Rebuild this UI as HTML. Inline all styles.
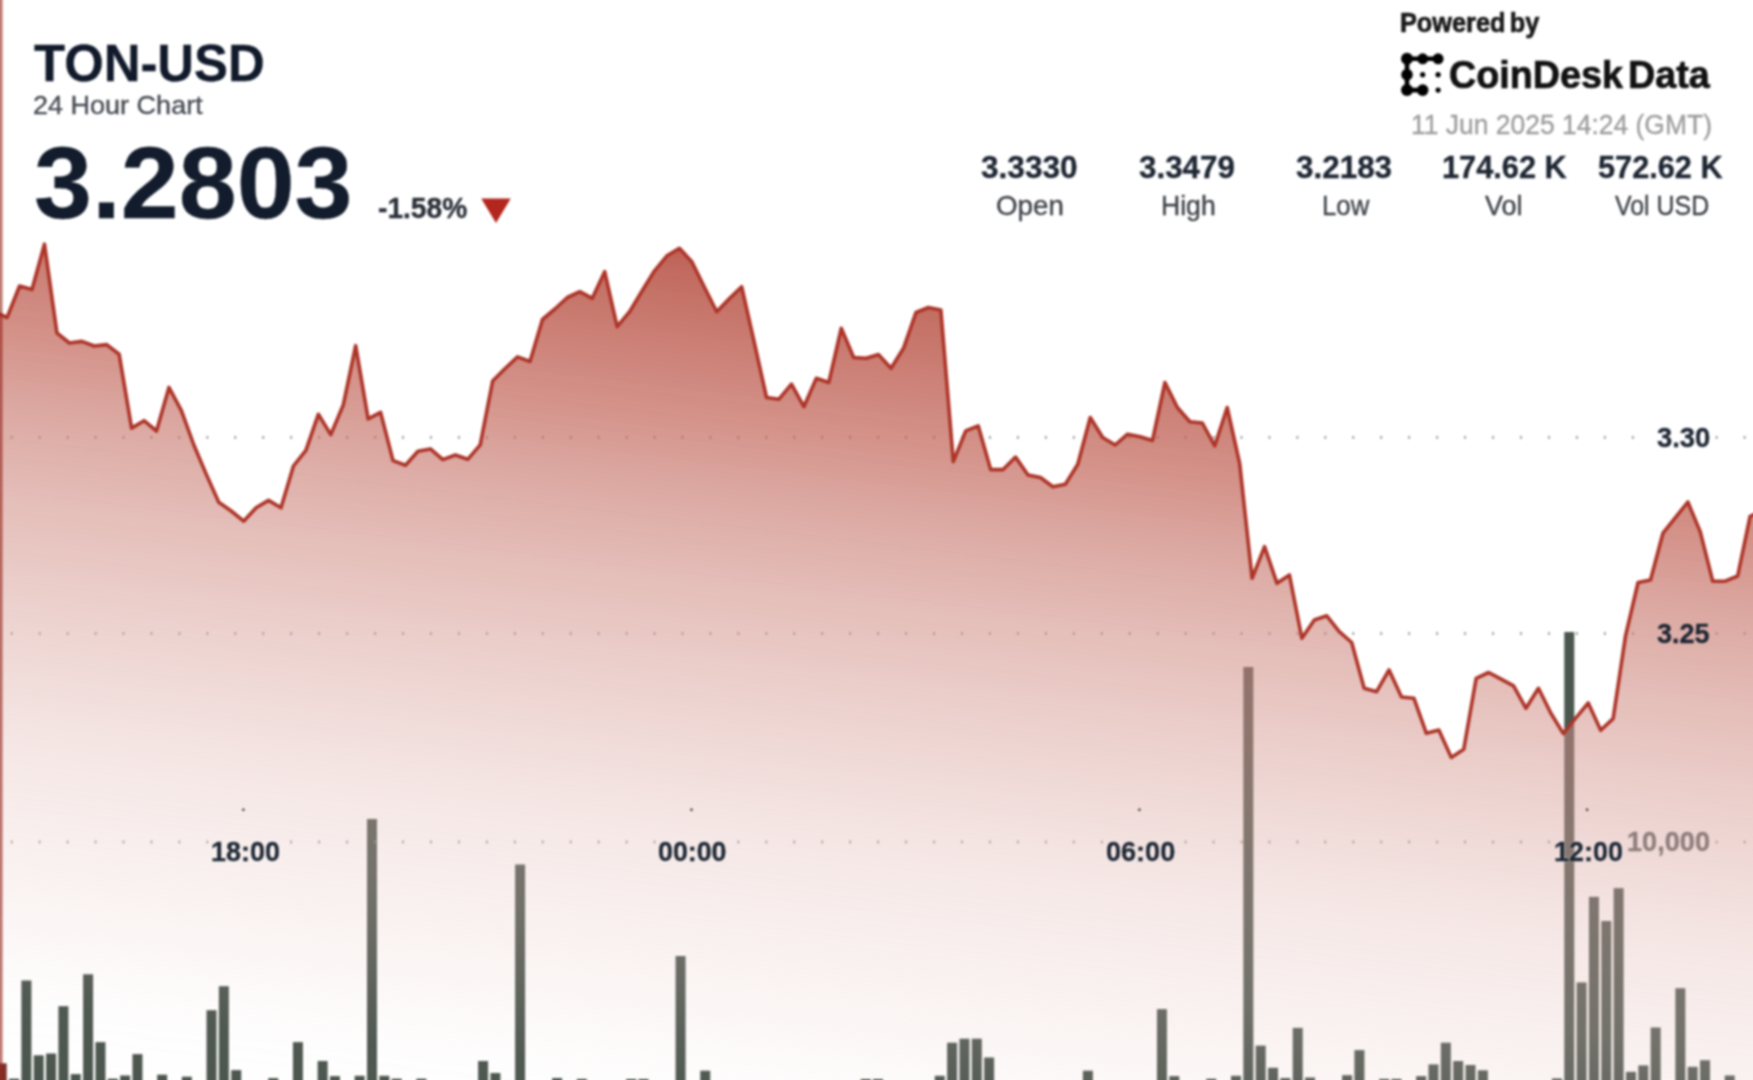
<!DOCTYPE html>
<html><head><meta charset="utf-8">
<style>
html,body{margin:0;padding:0;background:#fff;}
body{width:1753px;height:1080px;overflow:hidden;position:relative;font-family:"Liberation Sans",Arial,sans-serif;}
.t{position:absolute;white-space:nowrap;line-height:1;transform-origin:0 0;font-family:"Liberation Sans",Arial,sans-serif;}
svg{position:absolute;left:0;top:0;}
.root{position:absolute;left:0;top:0;width:1753px;height:1080px;filter:blur(1px);}
</style></head>
<body>
<div class="root">
<svg style="left:-10px;top:-10px" width="1773" height="1100" viewBox="-10 -10 1773 1100">
<defs>
<linearGradient id="g" gradientUnits="userSpaceOnUse" x1="0" y1="166.0" x2="-108.12" y2="1067.03">
<stop offset="0.0000" stop-color="rgb(176,60,48)" stop-opacity="0.820"/>
<stop offset="0.0263" stop-color="rgb(179,70,56)" stop-opacity="0.800"/>
<stop offset="0.1849" stop-color="rgb(192,96,83)" stop-opacity="0.680"/>
<stop offset="0.2516" stop-color="rgb(197,113,102)" stop-opacity="0.630"/>
<stop offset="0.3567" stop-color="rgb(206,134,125)" stop-opacity="0.550"/>
<stop offset="0.4354" stop-color="rgb(212,149,141)" stop-opacity="0.500"/>
<stop offset="0.5536" stop-color="rgb(219,168,161)" stop-opacity="0.400"/>
<stop offset="0.6324" stop-color="rgb(225,182,176)" stop-opacity="0.330"/>
<stop offset="0.7429" stop-color="rgb(230,195,190)" stop-opacity="0.250"/>
<stop offset="0.7921" stop-color="rgb(230,195,190)" stop-opacity="0.190"/>
<stop offset="0.9125" stop-color="rgb(230,195,190)" stop-opacity="0.030"/>
<stop offset="1.0000" stop-color="rgb(230,195,190)" stop-opacity="0.000"/>
</linearGradient>
</defs>
<g><rect x="-3.3" y="1063.3" width="10.0" height="26.7" fill="#7a3129"/>
<rect x="9.04" y="1078.7" width="10.0" height="11.3" fill="#4b564e"/>
<rect x="21.39" y="980.5" width="10.0" height="109.5" fill="#4b564e"/>
<rect x="33.73" y="1055.3" width="10.0" height="34.7" fill="#4b564e"/>
<rect x="46.07" y="1053.5" width="10.0" height="36.5" fill="#4b564e"/>
<rect x="58.42" y="1006.2" width="10.0" height="83.8" fill="#4b564e"/>
<rect x="70.76" y="1074.1" width="10.0" height="15.9" fill="#4b564e"/>
<rect x="83.1" y="974.3" width="10.0" height="115.7" fill="#4b564e"/>
<rect x="95.44" y="1042.1" width="10.0" height="47.9" fill="#4b564e"/>
<rect x="107.79" y="1078.7" width="10.0" height="11.3" fill="#4b564e"/>
<rect x="120.13" y="1075.5" width="10.0" height="14.5" fill="#4b564e"/>
<rect x="132.47" y="1054.1" width="10.0" height="35.9" fill="#4b564e"/>
<rect x="157.16" y="1074.7" width="10.0" height="15.3" fill="#4b564e"/>
<rect x="181.84" y="1076.7" width="10.0" height="13.3" fill="#4b564e"/>
<rect x="206.53" y="1010.2" width="10.0" height="79.8" fill="#4b564e"/>
<rect x="218.87" y="986.2" width="10.0" height="103.8" fill="#4b564e"/>
<rect x="231.22" y="1070.1" width="10.0" height="19.9" fill="#4b564e"/>
<rect x="268.25" y="1078.1" width="10.0" height="11.9" fill="#4b564e"/>
<rect x="292.93" y="1042.1" width="10.0" height="47.9" fill="#4b564e"/>
<rect x="317.62" y="1061" width="10.0" height="29" fill="#4b564e"/>
<rect x="329.96" y="1076.1" width="10.0" height="13.9" fill="#4b564e"/>
<rect x="354.65" y="1075.8" width="10.0" height="14.2" fill="#4b564e"/>
<rect x="366.99" y="819" width="10.0" height="271" fill="#4b564e"/>
<rect x="379.33" y="1075.8" width="10.0" height="14.2" fill="#4b564e"/>
<rect x="391.68" y="1078.7" width="10.0" height="11.3" fill="#4b564e"/>
<rect x="416.36" y="1078.7" width="10.0" height="11.3" fill="#4b564e"/>
<rect x="478.08" y="1061" width="10.0" height="29" fill="#4b564e"/>
<rect x="490.42" y="1073" width="10.0" height="17" fill="#4b564e"/>
<rect x="515.11" y="864.5" width="10.0" height="225.5" fill="#4b564e"/>
<rect x="552.13" y="1078" width="10.0" height="12" fill="#4b564e"/>
<rect x="576.82" y="1078.9" width="10.0" height="11.1" fill="#4b564e"/>
<rect x="626.19" y="1079" width="10.0" height="11" fill="#4b564e"/>
<rect x="638.54" y="1079" width="10.0" height="11" fill="#4b564e"/>
<rect x="675.57" y="956" width="10.0" height="134" fill="#4b564e"/>
<rect x="700.25" y="1070.7" width="10.0" height="19.3" fill="#4b564e"/>
<rect x="860.71" y="1079" width="10.0" height="11" fill="#4b564e"/>
<rect x="873.05" y="1079" width="10.0" height="11" fill="#4b564e"/>
<rect x="934.77" y="1075.8" width="10.0" height="14.2" fill="#4b564e"/>
<rect x="947.11" y="1042.7" width="10.0" height="47.3" fill="#4b564e"/>
<rect x="959.45" y="1038.7" width="10.0" height="51.3" fill="#4b564e"/>
<rect x="971.8" y="1038.7" width="10.0" height="51.3" fill="#4b564e"/>
<rect x="984.14" y="1057.5" width="10.0" height="32.5" fill="#4b564e"/>
<rect x="1082.88" y="1070.7" width="10.0" height="19.3" fill="#4b564e"/>
<rect x="1156.94" y="1009.1" width="10.0" height="80.9" fill="#4b564e"/>
<rect x="1169.29" y="1076.1" width="10.0" height="13.9" fill="#4b564e"/>
<rect x="1206.31" y="1078.7" width="10.0" height="11.3" fill="#4b564e"/>
<rect x="1231" y="1075.8" width="10.0" height="14.2" fill="#4b564e"/>
<rect x="1243.34" y="667" width="10.0" height="423" fill="#4b564e"/>
<rect x="1255.69" y="1045.6" width="10.0" height="44.4" fill="#4b564e"/>
<rect x="1268.03" y="1067.8" width="10.0" height="22.2" fill="#4b564e"/>
<rect x="1280.37" y="1078" width="10.0" height="12" fill="#4b564e"/>
<rect x="1292.72" y="1027.9" width="10.0" height="62.1" fill="#4b564e"/>
<rect x="1305.06" y="1077.5" width="10.0" height="12.5" fill="#4b564e"/>
<rect x="1342.09" y="1075.2" width="10.0" height="14.8" fill="#4b564e"/>
<rect x="1354.43" y="1050.1" width="10.0" height="39.9" fill="#4b564e"/>
<rect x="1379.12" y="1078.9" width="10.0" height="11.1" fill="#4b564e"/>
<rect x="1391.46" y="1078.9" width="10.0" height="11.1" fill="#4b564e"/>
<rect x="1416.14" y="1076.1" width="10.0" height="13.9" fill="#4b564e"/>
<rect x="1428.49" y="1064.4" width="10.0" height="25.6" fill="#4b564e"/>
<rect x="1440.83" y="1042.7" width="10.0" height="47.3" fill="#4b564e"/>
<rect x="1453.17" y="1061" width="10.0" height="29" fill="#4b564e"/>
<rect x="1465.52" y="1065" width="10.0" height="25" fill="#4b564e"/>
<rect x="1477.86" y="1070.3" width="10.0" height="19.7" fill="#4b564e"/>
<rect x="1551.92" y="1078.4" width="10.0" height="11.6" fill="#4b564e"/>
<rect x="1564.26" y="632" width="10.0" height="458" fill="#4b564e"/>
<rect x="1576.6" y="982.4" width="10.0" height="107.6" fill="#4b564e"/>
<rect x="1588.95" y="896.8" width="10.0" height="193.2" fill="#4b564e"/>
<rect x="1601.29" y="921" width="10.0" height="169" fill="#4b564e"/>
<rect x="1613.63" y="888.1" width="10.0" height="201.9" fill="#4b564e"/>
<rect x="1625.98" y="1071.8" width="10.0" height="18.2" fill="#4b564e"/>
<rect x="1638.32" y="1065.4" width="10.0" height="24.6" fill="#4b564e"/>
<rect x="1650.66" y="1027.5" width="10.0" height="62.5" fill="#4b564e"/>
<rect x="1675.35" y="988.2" width="10.0" height="101.8" fill="#4b564e"/>
<rect x="1687.69" y="1066.8" width="10.0" height="23.2" fill="#4b564e"/>
<rect x="1700.03" y="1060.2" width="10.0" height="29.8" fill="#4b564e"/>
<rect x="1724.72" y="1075.5" width="10.0" height="14.5" fill="#4b564e"/></g>
<g fill="#8a8a8a"><rect x="10.9" y="436" width="1.6" height="2.8"/><rect x="38.85" y="436" width="1.6" height="2.8"/><rect x="66.8" y="436" width="1.6" height="2.8"/><rect x="94.75" y="436" width="1.6" height="2.8"/><rect x="122.7" y="436" width="1.6" height="2.8"/><rect x="150.65" y="436" width="1.6" height="2.8"/><rect x="178.6" y="436" width="1.6" height="2.8"/><rect x="206.55" y="436" width="1.6" height="2.8"/><rect x="234.5" y="436" width="1.6" height="2.8"/><rect x="262.45" y="436" width="1.6" height="2.8"/><rect x="290.4" y="436" width="1.6" height="2.8"/><rect x="318.35" y="436" width="1.6" height="2.8"/><rect x="346.3" y="436" width="1.6" height="2.8"/><rect x="374.25" y="436" width="1.6" height="2.8"/><rect x="402.2" y="436" width="1.6" height="2.8"/><rect x="430.15" y="436" width="1.6" height="2.8"/><rect x="458.1" y="436" width="1.6" height="2.8"/><rect x="486.05" y="436" width="1.6" height="2.8"/><rect x="514" y="436" width="1.6" height="2.8"/><rect x="541.95" y="436" width="1.6" height="2.8"/><rect x="569.9" y="436" width="1.6" height="2.8"/><rect x="597.85" y="436" width="1.6" height="2.8"/><rect x="625.8" y="436" width="1.6" height="2.8"/><rect x="653.75" y="436" width="1.6" height="2.8"/><rect x="681.7" y="436" width="1.6" height="2.8"/><rect x="709.65" y="436" width="1.6" height="2.8"/><rect x="737.6" y="436" width="1.6" height="2.8"/><rect x="765.55" y="436" width="1.6" height="2.8"/><rect x="793.5" y="436" width="1.6" height="2.8"/><rect x="821.45" y="436" width="1.6" height="2.8"/><rect x="849.4" y="436" width="1.6" height="2.8"/><rect x="877.35" y="436" width="1.6" height="2.8"/><rect x="905.3" y="436" width="1.6" height="2.8"/><rect x="933.25" y="436" width="1.6" height="2.8"/><rect x="961.2" y="436" width="1.6" height="2.8"/><rect x="989.15" y="436" width="1.6" height="2.8"/><rect x="1017.1" y="436" width="1.6" height="2.8"/><rect x="1045.05" y="436" width="1.6" height="2.8"/><rect x="1073" y="436" width="1.6" height="2.8"/><rect x="1100.95" y="436" width="1.6" height="2.8"/><rect x="1128.9" y="436" width="1.6" height="2.8"/><rect x="1156.85" y="436" width="1.6" height="2.8"/><rect x="1184.8" y="436" width="1.6" height="2.8"/><rect x="1212.75" y="436" width="1.6" height="2.8"/><rect x="1240.7" y="436" width="1.6" height="2.8"/><rect x="1268.65" y="436" width="1.6" height="2.8"/><rect x="1296.6" y="436" width="1.6" height="2.8"/><rect x="1324.55" y="436" width="1.6" height="2.8"/><rect x="1352.5" y="436" width="1.6" height="2.8"/><rect x="1380.45" y="436" width="1.6" height="2.8"/><rect x="1408.4" y="436" width="1.6" height="2.8"/><rect x="1436.35" y="436" width="1.6" height="2.8"/><rect x="1464.3" y="436" width="1.6" height="2.8"/><rect x="1492.25" y="436" width="1.6" height="2.8"/><rect x="1520.2" y="436" width="1.6" height="2.8"/><rect x="1548.15" y="436" width="1.6" height="2.8"/><rect x="1576.1" y="436" width="1.6" height="2.8"/><rect x="1604.05" y="436" width="1.6" height="2.8"/><rect x="1632" y="436" width="1.6" height="2.8"/><rect x="1715.85" y="436" width="1.6" height="2.8"/><rect x="1743.8" y="436" width="1.6" height="2.8"/><rect x="10.9" y="632.1" width="1.6" height="2.8"/><rect x="38.85" y="632.1" width="1.6" height="2.8"/><rect x="66.8" y="632.1" width="1.6" height="2.8"/><rect x="94.75" y="632.1" width="1.6" height="2.8"/><rect x="122.7" y="632.1" width="1.6" height="2.8"/><rect x="150.65" y="632.1" width="1.6" height="2.8"/><rect x="178.6" y="632.1" width="1.6" height="2.8"/><rect x="206.55" y="632.1" width="1.6" height="2.8"/><rect x="234.5" y="632.1" width="1.6" height="2.8"/><rect x="262.45" y="632.1" width="1.6" height="2.8"/><rect x="290.4" y="632.1" width="1.6" height="2.8"/><rect x="318.35" y="632.1" width="1.6" height="2.8"/><rect x="346.3" y="632.1" width="1.6" height="2.8"/><rect x="374.25" y="632.1" width="1.6" height="2.8"/><rect x="402.2" y="632.1" width="1.6" height="2.8"/><rect x="430.15" y="632.1" width="1.6" height="2.8"/><rect x="458.1" y="632.1" width="1.6" height="2.8"/><rect x="486.05" y="632.1" width="1.6" height="2.8"/><rect x="514" y="632.1" width="1.6" height="2.8"/><rect x="541.95" y="632.1" width="1.6" height="2.8"/><rect x="569.9" y="632.1" width="1.6" height="2.8"/><rect x="597.85" y="632.1" width="1.6" height="2.8"/><rect x="625.8" y="632.1" width="1.6" height="2.8"/><rect x="653.75" y="632.1" width="1.6" height="2.8"/><rect x="681.7" y="632.1" width="1.6" height="2.8"/><rect x="709.65" y="632.1" width="1.6" height="2.8"/><rect x="737.6" y="632.1" width="1.6" height="2.8"/><rect x="765.55" y="632.1" width="1.6" height="2.8"/><rect x="793.5" y="632.1" width="1.6" height="2.8"/><rect x="821.45" y="632.1" width="1.6" height="2.8"/><rect x="849.4" y="632.1" width="1.6" height="2.8"/><rect x="877.35" y="632.1" width="1.6" height="2.8"/><rect x="905.3" y="632.1" width="1.6" height="2.8"/><rect x="933.25" y="632.1" width="1.6" height="2.8"/><rect x="961.2" y="632.1" width="1.6" height="2.8"/><rect x="989.15" y="632.1" width="1.6" height="2.8"/><rect x="1017.1" y="632.1" width="1.6" height="2.8"/><rect x="1045.05" y="632.1" width="1.6" height="2.8"/><rect x="1073" y="632.1" width="1.6" height="2.8"/><rect x="1100.95" y="632.1" width="1.6" height="2.8"/><rect x="1128.9" y="632.1" width="1.6" height="2.8"/><rect x="1156.85" y="632.1" width="1.6" height="2.8"/><rect x="1184.8" y="632.1" width="1.6" height="2.8"/><rect x="1212.75" y="632.1" width="1.6" height="2.8"/><rect x="1240.7" y="632.1" width="1.6" height="2.8"/><rect x="1268.65" y="632.1" width="1.6" height="2.8"/><rect x="1296.6" y="632.1" width="1.6" height="2.8"/><rect x="1324.55" y="632.1" width="1.6" height="2.8"/><rect x="1352.5" y="632.1" width="1.6" height="2.8"/><rect x="1380.45" y="632.1" width="1.6" height="2.8"/><rect x="1408.4" y="632.1" width="1.6" height="2.8"/><rect x="1436.35" y="632.1" width="1.6" height="2.8"/><rect x="1464.3" y="632.1" width="1.6" height="2.8"/><rect x="1492.25" y="632.1" width="1.6" height="2.8"/><rect x="1520.2" y="632.1" width="1.6" height="2.8"/><rect x="1548.15" y="632.1" width="1.6" height="2.8"/><rect x="1576.1" y="632.1" width="1.6" height="2.8"/><rect x="1604.05" y="632.1" width="1.6" height="2.8"/><rect x="1632" y="632.1" width="1.6" height="2.8"/><rect x="1715.85" y="632.1" width="1.6" height="2.8"/><rect x="1743.8" y="632.1" width="1.6" height="2.8"/><rect x="10.9" y="840.6" width="1.6" height="2.8"/><rect x="38.85" y="840.6" width="1.6" height="2.8"/><rect x="66.8" y="840.6" width="1.6" height="2.8"/><rect x="94.75" y="840.6" width="1.6" height="2.8"/><rect x="122.7" y="840.6" width="1.6" height="2.8"/><rect x="150.65" y="840.6" width="1.6" height="2.8"/><rect x="178.6" y="840.6" width="1.6" height="2.8"/><rect x="206.55" y="840.6" width="1.6" height="2.8"/><rect x="290.4" y="840.6" width="1.6" height="2.8"/><rect x="318.35" y="840.6" width="1.6" height="2.8"/><rect x="346.3" y="840.6" width="1.6" height="2.8"/><rect x="374.25" y="840.6" width="1.6" height="2.8"/><rect x="402.2" y="840.6" width="1.6" height="2.8"/><rect x="430.15" y="840.6" width="1.6" height="2.8"/><rect x="458.1" y="840.6" width="1.6" height="2.8"/><rect x="486.05" y="840.6" width="1.6" height="2.8"/><rect x="514" y="840.6" width="1.6" height="2.8"/><rect x="541.95" y="840.6" width="1.6" height="2.8"/><rect x="569.9" y="840.6" width="1.6" height="2.8"/><rect x="597.85" y="840.6" width="1.6" height="2.8"/><rect x="625.8" y="840.6" width="1.6" height="2.8"/><rect x="653.75" y="840.6" width="1.6" height="2.8"/><rect x="737.6" y="840.6" width="1.6" height="2.8"/><rect x="765.55" y="840.6" width="1.6" height="2.8"/><rect x="793.5" y="840.6" width="1.6" height="2.8"/><rect x="821.45" y="840.6" width="1.6" height="2.8"/><rect x="849.4" y="840.6" width="1.6" height="2.8"/><rect x="877.35" y="840.6" width="1.6" height="2.8"/><rect x="905.3" y="840.6" width="1.6" height="2.8"/><rect x="933.25" y="840.6" width="1.6" height="2.8"/><rect x="961.2" y="840.6" width="1.6" height="2.8"/><rect x="989.15" y="840.6" width="1.6" height="2.8"/><rect x="1017.1" y="840.6" width="1.6" height="2.8"/><rect x="1045.05" y="840.6" width="1.6" height="2.8"/><rect x="1073" y="840.6" width="1.6" height="2.8"/><rect x="1100.95" y="840.6" width="1.6" height="2.8"/><rect x="1184.8" y="840.6" width="1.6" height="2.8"/><rect x="1212.75" y="840.6" width="1.6" height="2.8"/><rect x="1240.7" y="840.6" width="1.6" height="2.8"/><rect x="1268.65" y="840.6" width="1.6" height="2.8"/><rect x="1296.6" y="840.6" width="1.6" height="2.8"/><rect x="1324.55" y="840.6" width="1.6" height="2.8"/><rect x="1352.5" y="840.6" width="1.6" height="2.8"/><rect x="1380.45" y="840.6" width="1.6" height="2.8"/><rect x="1408.4" y="840.6" width="1.6" height="2.8"/><rect x="1436.35" y="840.6" width="1.6" height="2.8"/><rect x="1464.3" y="840.6" width="1.6" height="2.8"/><rect x="1492.25" y="840.6" width="1.6" height="2.8"/><rect x="1520.2" y="840.6" width="1.6" height="2.8"/><rect x="1548.15" y="840.6" width="1.6" height="2.8"/><rect x="1715.85" y="840.6" width="1.6" height="2.8"/><rect x="1743.8" y="840.6" width="1.6" height="2.8"/></g>
<path d="M-5.35,312 L7.1,317.5 L19.55,286 L32,289.6 L44.45,244.2 L56.9,332.8 L69.35,343 L81.8,341.4 L94.25,346 L106.7,344.6 L119.15,354.2 L131.6,428.1 L144.05,420.7 L156.5,431 L168.95,387.4 L181.4,410.6 L193.85,445 L206.3,474.4 L218.75,502.2 L231.2,511 L243.65,521.2 L256.1,507.8 L268.55,500.4 L281,507.8 L293.45,466 L305.9,450.4 L318.35,414.3 L330.8,434.6 L343.25,405 L355.7,345.7 L368.15,418.9 L380.6,412.4 L393.05,460.6 L405.5,465.2 L417.95,451.3 L430.4,448.9 L442.85,459.6 L455.3,455 L467.75,459.3 L480.2,444.8 L492.65,381 L505.1,368.5 L517.55,356.9 L530,361.5 L542.45,319.5 L554.9,309 L567.35,297.5 L579.8,291.7 L592.25,298.3 L604.7,271.7 L617.15,326.7 L629.6,311.7 L642.05,291 L654.5,270.8 L666.95,255.8 L679.4,248.3 L691.85,261.7 L704.3,287 L716.75,311.7 L729.2,298.7 L741.65,286.7 L754.1,341.7 L766.55,397.5 L779,399.2 L791.45,384.2 L803.9,406.7 L816.35,378.3 L828.8,382.5 L841.25,328.3 L853.7,357.5 L866.15,358.3 L878.6,354.6 L891.05,368.3 L903.5,348.3 L915.95,312.5 L928.4,307.5 L940.85,310 L953.3,461.7 L965.75,430.8 L978.2,425.8 L990.65,469.6 L1003.1,469.6 L1015.55,457.1 L1028,475 L1040.45,477.5 L1052.9,486.7 L1065.35,484.2 L1077.8,464.2 L1090.25,417.5 L1102.7,437.5 L1115.15,445 L1127.6,434.2 L1140.05,436.7 L1152.5,440.4 L1164.95,382.5 L1177.4,407.5 L1189.85,421.7 L1202.3,423 L1214.75,445.8 L1227.2,407.5 L1239.65,463.3 L1252.1,578.3 L1264.55,546.6 L1277,583.3 L1289.45,575 L1301.9,638.3 L1314.35,620 L1326.8,615.8 L1339.25,631.7 L1351.7,642.5 L1364.15,688.3 L1376.6,691.7 L1389.05,670 L1401.5,697 L1413.95,698.3 L1426.4,733.3 L1438.85,730 L1451.3,757.5 L1463.75,749.2 L1476.2,678.3 L1488.65,672.5 L1501.1,679.2 L1513.55,685.8 L1526,708.3 L1538.45,688.3 L1550.9,713.3 L1563.35,733.6 L1575.8,718 L1588.25,703 L1600.7,730.3 L1613.15,718.6 L1625.6,635.6 L1638.05,582.5 L1650.5,580 L1662.95,533.2 L1675.4,517.6 L1687.85,502 L1700.3,531.9 L1712.75,581.2 L1725.2,581.2 L1737.65,576 L1750.1,516.3 L1762.55,510.7 L1762.55,1090 L-5.35,1090 Z" fill="url(#g)"/>
<g fill="#333"><circle cx="243.4" cy="809.7" r="1.3"/><circle cx="691.5" cy="809.7" r="1.3"/><circle cx="1139.4" cy="809.7" r="1.3"/><circle cx="1587.1" cy="809.7" r="1.3"/></g>
<path d="M-5.35,312 L7.1,317.5 L19.55,286 L32,289.6 L44.45,244.2 L56.9,332.8 L69.35,343 L81.8,341.4 L94.25,346 L106.7,344.6 L119.15,354.2 L131.6,428.1 L144.05,420.7 L156.5,431 L168.95,387.4 L181.4,410.6 L193.85,445 L206.3,474.4 L218.75,502.2 L231.2,511 L243.65,521.2 L256.1,507.8 L268.55,500.4 L281,507.8 L293.45,466 L305.9,450.4 L318.35,414.3 L330.8,434.6 L343.25,405 L355.7,345.7 L368.15,418.9 L380.6,412.4 L393.05,460.6 L405.5,465.2 L417.95,451.3 L430.4,448.9 L442.85,459.6 L455.3,455 L467.75,459.3 L480.2,444.8 L492.65,381 L505.1,368.5 L517.55,356.9 L530,361.5 L542.45,319.5 L554.9,309 L567.35,297.5 L579.8,291.7 L592.25,298.3 L604.7,271.7 L617.15,326.7 L629.6,311.7 L642.05,291 L654.5,270.8 L666.95,255.8 L679.4,248.3 L691.85,261.7 L704.3,287 L716.75,311.7 L729.2,298.7 L741.65,286.7 L754.1,341.7 L766.55,397.5 L779,399.2 L791.45,384.2 L803.9,406.7 L816.35,378.3 L828.8,382.5 L841.25,328.3 L853.7,357.5 L866.15,358.3 L878.6,354.6 L891.05,368.3 L903.5,348.3 L915.95,312.5 L928.4,307.5 L940.85,310 L953.3,461.7 L965.75,430.8 L978.2,425.8 L990.65,469.6 L1003.1,469.6 L1015.55,457.1 L1028,475 L1040.45,477.5 L1052.9,486.7 L1065.35,484.2 L1077.8,464.2 L1090.25,417.5 L1102.7,437.5 L1115.15,445 L1127.6,434.2 L1140.05,436.7 L1152.5,440.4 L1164.95,382.5 L1177.4,407.5 L1189.85,421.7 L1202.3,423 L1214.75,445.8 L1227.2,407.5 L1239.65,463.3 L1252.1,578.3 L1264.55,546.6 L1277,583.3 L1289.45,575 L1301.9,638.3 L1314.35,620 L1326.8,615.8 L1339.25,631.7 L1351.7,642.5 L1364.15,688.3 L1376.6,691.7 L1389.05,670 L1401.5,697 L1413.95,698.3 L1426.4,733.3 L1438.85,730 L1451.3,757.5 L1463.75,749.2 L1476.2,678.3 L1488.65,672.5 L1501.1,679.2 L1513.55,685.8 L1526,708.3 L1538.45,688.3 L1550.9,713.3 L1563.35,733.6 L1575.8,718 L1588.25,703 L1600.7,730.3 L1613.15,718.6 L1625.6,635.6 L1638.05,582.5 L1650.5,580 L1662.95,533.2 L1675.4,517.6 L1687.85,502 L1700.3,531.9 L1712.75,581.2 L1725.2,581.2 L1737.65,576 L1750.1,516.3 L1762.55,510.7" fill="none" stroke="#ad3428" stroke-width="3.6" stroke-linejoin="round"/>
<rect x="-6" y="-10" width="8.6" height="1100" fill="rgb(150,40,30)" fill-opacity="0.62"/>
</svg>
<svg style="left:480px;top:197px" width="32" height="28"><path d="M1.2,1.6 L30.8,1.6 L16,25.9 Z" fill="#b3261e"/></svg>
<svg style="left:1395px;top:48px" width="56" height="52">
 <g stroke="#000" stroke-width="4.6" stroke-linecap="round" fill="none">
  <path d="M43.1,10.8 L12,10.8 L12,42.1 L27.7,42.1"/>
 </g>
 <g fill="#000">
  <circle cx="12" cy="10.8" r="6"/><circle cx="27.7" cy="10.8" r="5.5"/><circle cx="43.1" cy="10.8" r="5.5"/>
  <circle cx="12" cy="26.7" r="5.8"/><circle cx="12" cy="42.1" r="6"/><circle cx="27.7" cy="42.1" r="5.8"/>
  <circle cx="27.7" cy="26.7" r="2.6"/><circle cx="43.1" cy="26.7" r="2.6"/><circle cx="43.1" cy="42.1" r="2.6"/>
 </g>
</svg>
<div class="t" style="left:33.79px;top:38.08px;font-size:51.74px;font-weight:700;color:#111a2b;transform:scaleX(0.9830);-webkit-text-stroke:0.35px #111a2b;">TON-USD</div>
<div class="t" style="left:32.95px;top:92.19px;font-size:26.52px;font-weight:400;color:#464b53;transform:scaleX(1.0188);-webkit-text-stroke:0.35px #464b53;">24 Hour Chart</div>
<div class="t" style="left:34.4px;top:132.55px;font-size:101.59px;font-weight:700;color:#121c2c;transform:scaleX(1.0251);-webkit-text-stroke:0.35px #121c2c;">3.2803</div>
<div class="t" style="left:377.87px;top:194.08px;font-size:29.13px;font-weight:700;color:#2a2f38;transform:scaleX(0.9667);-webkit-text-stroke:0.35px #2a2f38;">-1.58%</div>
<div class="t" style="left:1400.21px;top:8.89px;font-size:27.83px;font-weight:700;color:#1a1a1a;transform:scaleX(0.9087);word-spacing:-3.0px;-webkit-text-stroke:0.7px #1a1a1a;">Powered by</div>
<div class="t" style="left:1448.89px;top:54.87px;font-size:39.57px;font-weight:700;color:#111111;transform:scaleX(0.9529);word-spacing:-5.5px;-webkit-text-stroke:0.7px #111111;">CoinDesk Data</div>
<div class="t" style="left:1410.81px;top:111.05px;font-size:27.39px;font-weight:400;color:#9d9d9d;transform:scaleX(0.9663);-webkit-text-stroke:0.35px #9d9d9d;">11 Jun 2025 14:24 (GMT)</div>
<div class="t" style="left:981.21px;top:151.67px;font-size:31.16px;font-weight:700;color:#1e2633;transform:scaleX(1.0148);-webkit-text-stroke:0.35px #1e2633;">3.3330</div>
<div class="t" style="left:1138.82px;top:151.67px;font-size:31.16px;font-weight:700;color:#1e2633;transform:scaleX(1.0062);-webkit-text-stroke:0.35px #1e2633;">3.3479</div>
<div class="t" style="left:1296.21px;top:151.67px;font-size:31.16px;font-weight:700;color:#1e2633;transform:scaleX(1.0083);-webkit-text-stroke:0.35px #1e2633;">3.2183</div>
<div class="t" style="left:1441.8px;top:151.67px;font-size:31.16px;font-weight:700;color:#1e2633;transform:scaleX(0.9870);-webkit-text-stroke:0.35px #1e2633;">174.62 K</div>
<div class="t" style="left:1598.48px;top:151.67px;font-size:31.16px;font-weight:700;color:#1e2633;transform:scaleX(0.9856);-webkit-text-stroke:0.35px #1e2633;">572.62 K</div>
<div class="t" style="left:996.25px;top:192.39px;font-size:27.83px;font-weight:400;color:#3c4046;transform:scaleX(0.9973);-webkit-text-stroke:0.35px #3c4046;">Open</div>
<div class="t" style="left:1161.47px;top:192.39px;font-size:27.83px;font-weight:400;color:#3c4046;transform:scaleX(0.9558);-webkit-text-stroke:0.35px #3c4046;">High</div>
<div class="t" style="left:1321.94px;top:192.39px;font-size:27.83px;font-weight:400;color:#3c4046;transform:scaleX(0.9256);-webkit-text-stroke:0.35px #3c4046;">Low</div>
<div class="t" style="left:1484.66px;top:192.39px;font-size:27.83px;font-weight:400;color:#3c4046;transform:scaleX(0.9719);-webkit-text-stroke:0.35px #3c4046;">Vol</div>
<div class="t" style="left:1614.68px;top:192.39px;font-size:27.83px;font-weight:400;color:#3c4046;transform:scaleX(0.8953);-webkit-text-stroke:0.35px #3c4046;">Vol USD</div>
<div class="t" style="left:210.75px;top:838.33px;font-size:27.54px;font-weight:700;color:#1d2633;transform:scaleX(0.9783);-webkit-text-stroke:0.35px #1d2633;text-shadow:0 0 2px rgba(255,255,255,0.9),0 0 1px rgba(255,255,255,0.9);">18:00</div>
<div class="t" style="left:657.93px;top:838.33px;font-size:27.54px;font-weight:700;color:#1d2633;transform:scaleX(0.9728);-webkit-text-stroke:0.35px #1d2633;text-shadow:0 0 2px rgba(255,255,255,0.9),0 0 1px rgba(255,255,255,0.9);">00:00</div>
<div class="t" style="left:1106.12px;top:838.33px;font-size:27.54px;font-weight:700;color:#1d2633;transform:scaleX(0.9831);-webkit-text-stroke:0.35px #1d2633;text-shadow:0 0 2px rgba(255,255,255,0.9),0 0 1px rgba(255,255,255,0.9);">06:00</div>
<div class="t" style="left:1553.65px;top:838.33px;font-size:27.54px;font-weight:700;color:#1d2633;transform:scaleX(0.9783);-webkit-text-stroke:0.35px #1d2633;text-shadow:0 0 2px rgba(255,255,255,0.9),0 0 1px rgba(255,255,255,0.9);">12:00</div>
<div class="t" style="left:1657.02px;top:423.73px;font-size:27.54px;font-weight:700;color:#1d2633;transform:scaleX(0.9948);-webkit-text-stroke:0.35px #1d2633;">3.30</div>
<div class="t" style="left:1656.82px;top:620.05px;font-size:27.39px;font-weight:700;color:#1d2633;transform:scaleX(0.9874);-webkit-text-stroke:0.35px #1d2633;">3.25</div>
<div class="t" style="left:1627.04px;top:827.73px;font-size:27.54px;font-weight:700;color:#8e7e7c;transform:scaleX(0.9856);-webkit-text-stroke:0.35px #8e7e7c;">10,000</div>
</div>
</body></html>
